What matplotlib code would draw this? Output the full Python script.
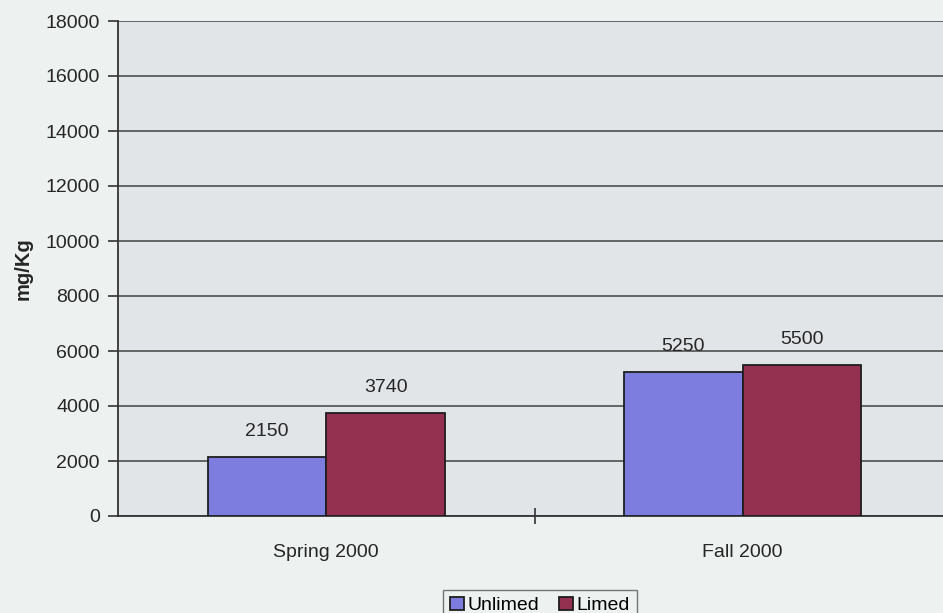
import matplotlib
matplotlib.use("Agg")
import matplotlib.pyplot as plt
import numpy as np

# Soil concentration data
categories = ["Spring 2000", "Fall 2000"]
series_names = ["Unlimed", "Limed"]
unlimed = [2150, 5250]
limed = [3740, 5500]
y_ticks = [0, 2000, 4000, 6000, 8000, 10000, 12000, 14000, 16000, 18000]
y_label = "mg/Kg"

colors = ["#7d7ddf", "#953150"]
fig_bg = "#edf1ef"
plot_bg = "#e2e5e8"
grid_col = "#4e4e4e"

plt.rcParams["font.family"] = ["Liberation Sans", "DejaVu Sans"]

fig = plt.figure(figsize=(9.43, 6.13), dpi=100, facecolor=fig_bg)
ax = fig.add_axes([118 / 943, 97 / 613, 833 / 943, 495 / 613])
ax.set_facecolor(plot_bg)

x = np.arange(len(categories))
w = 0.285
for i, (vals, name) in enumerate(zip([unlimed, limed], series_names)):
    pos = x + (i - 0.5) * w
    bars = ax.bar(pos, vals, width=w, color=colors[i], edgecolor="#1e1e1e",
                  linewidth=1.3, label=name, zorder=3)
    for b, v in zip(bars, vals):
        ax.annotate(f"{v}", (b.get_x() + b.get_width() / 2, v),
                    xytext=(0, 12), textcoords="offset points",
                    ha="center", va="bottom", fontsize=14, color="#262626")

ax.set_xlim(-0.5, 1.5)
ax.set_ylim(0, 18000)
ax.set_yticks(y_ticks)
ax.set_yticklabels([str(t) for t in y_ticks], fontsize=14, color="#262626")
ax.yaxis.grid(True, color=grid_col, linewidth=1.2, zorder=1)
ax.set_axisbelow(True)

ax.set_xticks(x)
ax.set_xticklabels(categories, fontsize=14, color="#262626")
ax.tick_params(axis="x", length=0, pad=20)
ax.set_xticks([0.5], minor=True)
ax.tick_params(axis="x", which="minor", direction="inout", length=12,
               width=1.2, color="#333333")
ax.tick_params(axis="y", length=7, width=1.2, color="#333333", pad=6)

for s in ["top", "right"]:
    ax.spines[s].set_visible(False)
ax.spines["left"].set_color("#333333")
ax.spines["left"].set_linewidth(1.3)
ax.spines["bottom"].set_color("#333333")
ax.spines["bottom"].set_linewidth(1.3)

ax.set_ylabel(y_label, fontsize=14.5, fontweight="bold", color="#262626",
              labelpad=9)

leg = fig.legend(loc="upper center", bbox_to_anchor=(540 / 943, 1 - 580 / 613),
                 ncol=2, fontsize=14, frameon=True, fancybox=False,
                 handlelength=0.7, handleheight=0.7, handletextpad=0.2,
                 columnspacing=1.0, borderpad=0.35, edgecolor="#555555",
                 facecolor=fig_bg)
leg.get_frame().set_linewidth(1.0)

fig.savefig("out.png", dpi=100, facecolor=fig_bg)
